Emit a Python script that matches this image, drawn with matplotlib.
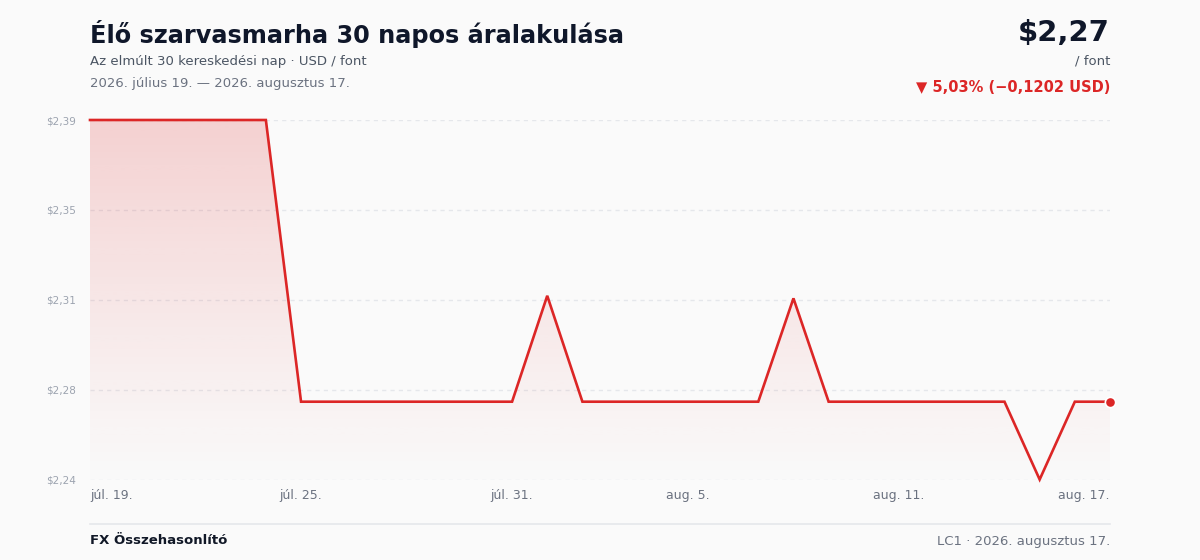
import matplotlib
matplotlib.use("Agg")
import matplotlib.pyplot as plt
import numpy as np
import pandas as pd
from matplotlib.patches import Polygon
import matplotlib.colors as mcolors

# ---- data ----
dates = pd.date_range("2026-07-19", periods=30, freq="D")
prices = [2.3897, 2.3897, 2.3897, 2.3897, 2.3897, 2.3897,
          2.2695, 2.2695, 2.2695, 2.2695, 2.2695, 2.2695, 2.2695,
          2.3147,
          2.2695, 2.2695, 2.2695, 2.2695, 2.2695, 2.2695,
          2.3136,
          2.2695, 2.2695, 2.2695, 2.2695, 2.2695, 2.2695,
          2.2363,
          2.2695, 2.2695]
x_tick_idx = [0, 6, 12, 17, 23, 29]
x_tick_labels = ["júl. 19.", "júl. 25.", "júl. 31.", "aug. 5.", "aug. 11.", "aug. 17."]
y_tick_labels = ["$2,24", "$2,28", "$2,31", "$2,35", "$2,39"]

title = "Élő szarvasmarha 30 napos áralakulása"
subtitle = "Az elmúlt 30 kereskedési nap · USD / font"
date_line = "2026. július 19. — 2026. augusztus 17."
price_text = "$2,27"
unit_text = "/ font"
change_text = "▼ 5,03% (−0,1202 USD)"
footer_left = "FX Összehasonlító"
footer_right = "LC1 · 2026. augusztus 17."

# ---- style ----
BG = "#fafafa"
RED = "#dc2626"
plt.rcParams['font.family'] = ['DejaVu Sans']

fig = plt.figure(figsize=(12, 5.6), dpi=100, facecolor=BG)
ax = fig.add_axes([90/1200, 1-479.5/560, 1020/1200, 359.5/560])
ax.set_facecolor(BG)

x = np.arange(len(prices))
y = np.array(prices)
ymin, ymax = y.min(), y.max()
ax.set_xlim(0, len(prices) - 1)
ax.set_ylim(ymin, ymax)

# gradient fill under line
grad = np.linspace(0.0, 1.0, 256).reshape(-1, 1)
r, g, b = mcolors.to_rgb(RED)
rgba = np.zeros((256, 1, 4))
rgba[..., 0] = r
rgba[..., 1] = g
rgba[..., 2] = b
rgba[..., 3] = (0.005 + 0.19 * grad ** 1.1)
img = ax.imshow(rgba, extent=[0, len(prices) - 1, ymin, ymax], origin="lower",
                aspect="auto", zorder=1, interpolation="bilinear")
poly = Polygon(np.column_stack([np.r_[x, x[-1], x[0]], np.r_[y, ymin, ymin]]),
               closed=True, facecolor="none", edgecolor="none")
ax.add_patch(poly)
img.set_clip_path(poly)

# gridlines
yt = np.linspace(ymin, ymax, len(y_tick_labels))
for v in yt:
    ax.axhline(v, color="#e5e7eb", lw=1, ls=(0, (3, 3)), zorder=0.5)

ax.plot(x, y, color=RED, lw=1.9, zorder=3, clip_on=False, solid_joinstyle="miter")
ax.scatter([x[-1]], [y[-1]], s=55, color=RED, edgecolor="white", linewidth=1.2,
           zorder=4, clip_on=False)

for s in ax.spines.values():
    s.set_visible(False)
ax.set_yticks(yt)
ax.set_yticklabels(y_tick_labels, fontsize=7.5, color="#9ca3af")
ax.tick_params(axis="y", length=0, pad=10)
ax.set_xticks([])

# x tick labels
for i, (idx, lab) in enumerate(zip(x_tick_idx, x_tick_labels)):
    ha = "left" if i == 0 else ("right" if i == len(x_tick_idx) - 1 else "center")
    ax.text(idx, -0.045, lab, transform=ax.get_xaxis_transform(), ha=ha, va="center",
            fontsize=9, color="#6b7280")

# header
fig.text(90/1200, 1-34/560, title, fontsize=17.3, fontweight="bold", color="#0f172a",
         ha="left", va="center")
fig.text(90/1200, 1-61/560, subtitle, fontsize=9.5, color="#4b5563", ha="left", va="center")
fig.text(90/1200, 1-83/560, date_line, fontsize=9.5, color="#6b7280", ha="left", va="center")
fig.text(1110/1200, 1-33/560, price_text, fontsize=21, fontweight="bold", color="#0f172a",
         ha="right", va="center")
fig.text(1110/1200, 1-61/560, unit_text, fontsize=9.5, color="#4b5563", ha="right", va="center")
fig.text(1110/1200, 1-87/560, change_text, fontsize=10.5, fontweight="bold", color=RED,
         ha="right", va="center")

# footer
fig.add_artist(plt.Line2D([90/1200, 1110/1200], [1-524/560, 1-524/560], color="#e5e7eb", lw=1.2,
                          transform=fig.transFigure))
fig.text(90/1200, 1-541/560, footer_left, fontsize=9.5, fontweight="bold", color="#111827",
         ha="left", va="center")
fig.text(1110/1200, 1-541/560, footer_right, fontsize=9.5, color="#6b7280", ha="right", va="center")

fig.savefig("out.png", dpi=100, facecolor=BG)
